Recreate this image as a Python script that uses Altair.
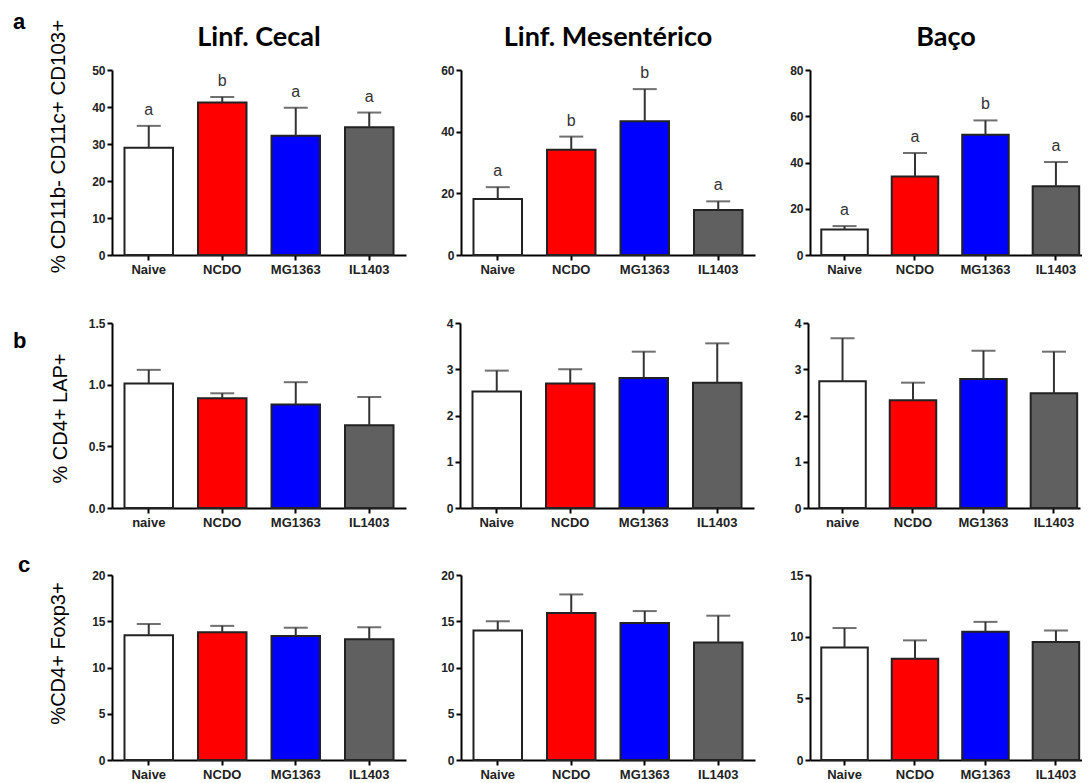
import altair as alt
import pandas as pd

# ---------------- data ----------------
groups = ["Naive", "NCDO", "MG1363", "IL1403"]
bar_colors = ["#ffffff", "#ff0000", "#0000ff", "#606060"]

labels_upper = ["Naive", "NCDO", "MG1363", "IL1403"]
labels_lower = ["naive", "NCDO", "MG1363", "IL1403"]

col_titles = ["Linf. Cecal", "Linf. Mesentérico", "Baço"]
row_titles = ["% CD11b- CD11c+ CD103+", "% CD4+ LAP+", "%CD4+ Foxp3+"]
row_letters = ["a", "b", "c"]

# row a : % CD11b- CD11c+ CD103+
a_cecal_mean = [29.0, 41.2, 32.2, 34.5]
a_cecal_err = [5.9, 1.5, 7.6, 4.0]
a_cecal_sig = ["a", "b", "a", "a"]
a_cecal_ticks = [0, 10, 20, 30, 40, 50]

a_mes_mean = [18.2, 34.1, 43.4, 14.6]
a_mes_err = [3.8, 4.3, 10.4, 2.8]
a_mes_sig = ["a", "b", "b", "a"]
a_mes_ticks = [0, 20, 40, 60]

a_baco_mean = [11.0, 34.0, 52.0, 29.7]
a_baco_err = [1.5, 10.1, 6.2, 10.5]
a_baco_sig = ["a", "a", "b", "a"]
a_baco_ticks = [0, 20, 40, 60, 80]

# row b : % CD4+ LAP+
b_cecal_mean = [1.01, 0.89, 0.84, 0.67]
b_cecal_err = [0.11, 0.04, 0.18, 0.23]
b_cecal_ticks = [0.0, 0.5, 1.0, 1.5]

b_mes_mean = [2.52, 2.69, 2.81, 2.71]
b_mes_err = [0.45, 0.31, 0.57, 0.85]
b_mes_ticks = [0, 1, 2, 3, 4]

b_baco_mean = [2.74, 2.33, 2.79, 2.48]
b_baco_err = [0.93, 0.38, 0.61, 0.90]
b_baco_ticks = [0, 1, 2, 3, 4]

# row c : %CD4+ Foxp3+
c_cecal_mean = [13.5, 13.8, 13.4, 13.05]
c_cecal_err = [1.2, 0.7, 0.9, 1.3]
c_cecal_ticks = [0, 5, 10, 15, 20]

c_mes_mean = [14.0, 15.9, 14.8, 12.7]
c_mes_err = [1.0, 2.0, 1.3, 2.9]
c_mes_ticks = [0, 5, 10, 15, 20]

c_baco_mean = [9.13, 8.2, 10.4, 9.56]
c_baco_err = [1.57, 1.5, 0.8, 0.94]
c_baco_ticks = [0, 5, 10, 15]

# ---------------- styling ----------------
FONT = "Liberation Sans"
H = 185
W3 = 272


def panel(labels, mean, err, ticks, width, sig=None, fmt="d", title=None,
          ytitle=None, ytitle_size=20, ytitle_x=0, ytitle_y=0, letter=None,
          letter_x=0, letter_y=0, pad_outer=0.17, band_align=0.5):
    df = pd.DataFrame({
        "label": labels,
        "grp": groups,
        "mean": mean,
        "top": [m + e for m, e in zip(mean, err)],
        "sig": sig if sig else [""] * len(labels),
    })
    xscale = alt.Scale(paddingInner=0.34, paddingOuter=pad_outer, align=band_align)
    xaxis = alt.Axis(title=None, labelAngle=0, labelFontSize=13, labelPadding=3)
    xenc = alt.X("label:N", sort=labels, scale=xscale, axis=xaxis)
    yscale = alt.Scale(domain=[ticks[0], ticks[-1]], nice=False)
    yaxis_kw = dict(values=ticks, format=fmt, labelFontSize=12, labelPadding=2,
                    labelOverlap=False)
    if ytitle:
        yaxis_kw.update(title=ytitle, titleFont=FONT, titleFontSize=ytitle_size,
                        titleFontWeight="normal", titleColor="#000",
                        titleX=ytitle_x, titleY=ytitle_y, titleAlign="center",
                        titleBaseline="middle", titleAngle=270)
    else:
        yaxis_kw.update(title=None)
    yaxis = alt.Axis(**yaxis_kw)

    def Y(field):
        return alt.Y(field, scale=yscale, axis=yaxis)

    base = alt.Chart(df)
    bars = base.mark_bar(stroke="#222", strokeWidth=2).encode(
        x=xenc, y=Y("mean:Q"),
        color=alt.Color("grp:N", scale=alt.Scale(domain=groups, range=bar_colors),
                        legend=None),
    )
    rule = base.mark_rule(color="#333", strokeWidth=2).encode(
        x=xenc, y=Y("mean:Q"), y2="top:Q")
    cap = base.mark_tick(color="#333", thickness=2, size=24).encode(
        x=xenc, y=Y("top:Q"))
    layers = [bars, rule, cap]
    if sig:
        txt = base.mark_text(font=FONT, fontSize=16, color="#333",
                             baseline="alphabetic", dy=-11).encode(
            x=xenc, y=Y("top:Q"), text="sig:N")
        layers.append(txt)
    if title:
        ttl = alt.Chart(pd.DataFrame({"t": [title]})).mark_text(
            font="Lato", fontSize=27, fontWeight="bold", color="#000",
            align="center", baseline="alphabetic").encode(
            x=alt.value(width / 2), y=alt.value(-24), text="t:N")
        layers.append(ttl)
    if letter:
        let = alt.Chart(pd.DataFrame({"t": [letter]})).mark_text(
            font=FONT, fontSize=22, fontWeight="bold", color="#000",
            align="left", baseline="alphabetic").encode(
            x=alt.value(letter_x), y=alt.value(letter_y), text="t:N")
        layers.append(let)
    return alt.layer(*layers).properties(width=width, height=H)


row_a = alt.hconcat(
    panel(labels_upper, a_cecal_mean, a_cecal_err, a_cecal_ticks, 294, sig=a_cecal_sig,
          title=col_titles[0], ytitle=row_titles[0], ytitle_size=20.5,
          ytitle_x=-54, ytitle_y=76,
          letter=row_letters[0], letter_x=-99, letter_y=-41),
    panel(labels_upper, a_mes_mean, a_mes_err, a_mes_ticks, 294, sig=a_mes_sig,
          title=col_titles[1]),
    panel(labels_upper, a_baco_mean, a_baco_err, a_baco_ticks, W3, sig=a_baco_sig,
          title=col_titles[2], pad_outer=0.1, band_align=0.8),
    spacing=34,
)

row_b = alt.hconcat(
    panel(labels_lower, b_cecal_mean, b_cecal_err, b_cecal_ticks, 294, fmt=".1f",
          ytitle=row_titles[1], ytitle_x=-52, ytitle_y=95,
          letter=row_letters[1], letter_x=-99, letter_y=25),
    panel(labels_upper, b_mes_mean, b_mes_err, b_mes_ticks, 294),
    panel(labels_lower, b_baco_mean, b_baco_err, b_baco_ticks, W3,
          pad_outer=0.1, band_align=0.8),
    spacing=40,
)

row_c = alt.hconcat(
    panel(labels_upper, c_cecal_mean, c_cecal_err, c_cecal_ticks, 294,
          ytitle=row_titles[2], ytitle_x=-54, ytitle_y=78,
          letter=row_letters[2], letter_x=-94, letter_y=-3),
    panel(labels_upper, c_mes_mean, c_mes_err, c_mes_ticks, 294),
    panel(labels_upper, c_baco_mean, c_baco_err, c_baco_ticks, W3,
          pad_outer=0.1, band_align=0.8),
    spacing=34,
)

chart = alt.vconcat(
    row_a,
    alt.vconcat(row_b, row_c, spacing=25),
    spacing=41,
).properties(
    padding={"left": 5, "top": 3, "right": 0, "bottom": 0},
    background="#ffffff",
).configure_view(
    stroke=None
).configure_axis(
    grid=False,
    domainColor="#000",
    domainWidth=2,
    tickColor="#000",
    tickWidth=2,
    tickSize=5,
    labelFont=FONT,
    labelFontWeight="bold",
    labelColor="#222",
)

chart.save("out.html", embed_options={"renderer": "svg", "actions": False})
